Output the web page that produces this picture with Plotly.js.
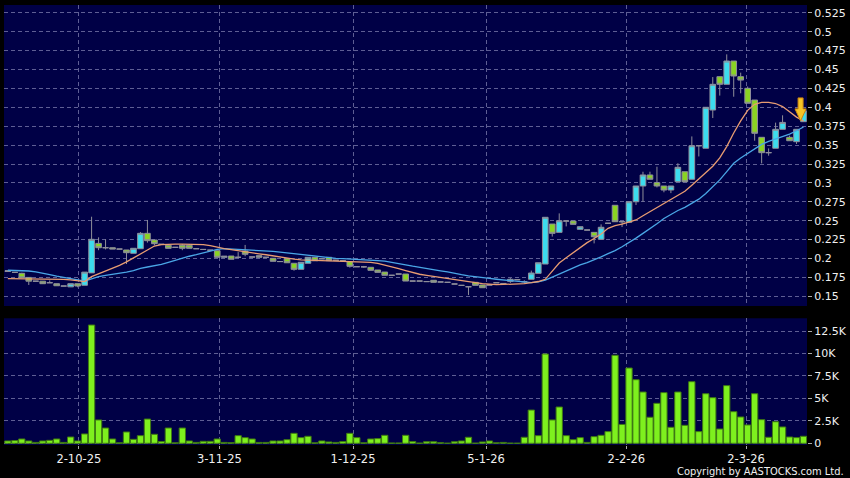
<!DOCTYPE html>
<html><head><meta charset="utf-8">
<script src="https://cdn.plot.ly/plotly-3.0.1.min.js"></script>
<style>html,body{margin:0;padding:0;background:#000;}#chart{width:850px;height:478px;}</style>
</head><body><div id="chart"></div>
<script>
const openP = [0.1828,0.1817,0.1804,0.1750,0.1700,0.1700,0.1680,0.1667,0.1636,0.1625,
0.1667,0.1646,0.1810,0.2200,0.2143,0.2143,0.2125,0.2113,0.2069,0.2130,
0.2333,0.2245,0.2188,0.2175,0.2148,0.2175,0.2175,0.2130,0.2120,0.2110,
0.2103,0.2016,0.2033,0.2016,0.2099,0.2020,0.2038,0.2016,0.2003,0.1960,
0.1997,0.1937,0.1857,0.1937,0.2016,0.1997,0.2016,0.1977,0.1970,0.1958,
0.1892,0.1890,0.1884,0.1848,0.1821,0.1778,0.1795,0.1795,0.1702,0.1702,
0.1695,0.1712,0.1690,0.1685,0.1663,0.1645,0.1627,0.1685,0.1650,0.1650,
0.1680,0.1670,0.1698,0.1720,0.1693,0.1725,0.1804,0.1927,0.2456,0.2346,
0.2496,0.2496,0.2386,0.2377,0.2346,0.2254,0.2466,0.2704,0.2487,0.2479,
0.2751,0.2959,0.3105,0.3003,0.2959,0.2906,0.3016,0.3148,0.3048,0.3492,
0.3458,0.3964,0.4405,0.4304,0.4612,0.4405,0.4251,0.4096,0.3603,0.3400,
0.3458,0.3709,0.3603,0.3545,0.3810];
const highP = [0.1840,0.1817,0.1812,0.1750,0.1700,0.1700,0.1710,0.1667,0.1636,0.1667,
0.1667,0.1820,0.2553,0.2280,0.2254,0.2143,0.2125,0.2113,0.2135,0.2350,
0.2510,0.2245,0.2188,0.2175,0.2148,0.2190,0.2190,0.2130,0.2120,0.2110,
0.2103,0.2030,0.2033,0.2085,0.2180,0.2020,0.2038,0.2016,0.2003,0.1960,
0.1997,0.1937,0.1950,0.2016,0.2016,0.1997,0.2016,0.1977,0.1970,0.1958,
0.1892,0.1902,0.1884,0.1848,0.1821,0.1778,0.1795,0.1795,0.1702,0.1702,
0.1695,0.1712,0.1690,0.1685,0.1663,0.1645,0.1627,0.1685,0.1650,0.1650,
0.1680,0.1670,0.1740,0.1720,0.1712,0.1840,0.1944,0.2545,0.2456,0.2597,
0.2505,0.2496,0.2421,0.2377,0.2346,0.2452,0.2466,0.2704,0.2487,0.2751,
0.2959,0.3148,0.3148,0.3214,0.2959,0.2959,0.3260,0.3148,0.3615,0.3492,
0.4000,0.4400,0.4405,0.4700,0.4612,0.4458,0.4275,0.4096,0.3603,0.3456,
0.3797,0.3894,0.3625,0.3709,0.3955];
const lowP = [0.1828,0.1817,0.1746,0.1650,0.1700,0.1667,0.1680,0.1640,0.1636,0.1625,
0.1620,0.1646,0.1810,0.2110,0.2120,0.2125,0.2125,0.1927,0.2069,0.2130,
0.2210,0.2175,0.2188,0.2135,0.2148,0.2110,0.2135,0.2130,0.2120,0.2110,
0.2016,0.2016,0.1990,0.2016,0.2030,0.2020,0.2016,0.2016,0.1963,0.1960,
0.1944,0.1839,0.1857,0.1937,0.1970,0.1997,0.1972,0.1977,0.1970,0.1880,
0.1892,0.1878,0.1844,0.1817,0.1778,0.1778,0.1795,0.1702,0.1702,0.1702,
0.1695,0.1685,0.1690,0.1685,0.1663,0.1645,0.1517,0.1645,0.1614,0.1650,
0.1680,0.1670,0.1678,0.1720,0.1675,0.1725,0.1804,0.1927,0.2290,0.2346,
0.2425,0.2452,0.2386,0.2377,0.2200,0.2254,0.2466,0.2487,0.2416,0.2479,
0.2707,0.2751,0.3048,0.2940,0.2876,0.2865,0.3016,0.3016,0.3048,0.3350,
0.3458,0.3858,0.4155,0.4304,0.4140,0.4185,0.4053,0.3558,0.3258,0.3360,
0.3458,0.3709,0.3558,0.3515,0.3810];
const closeP = [0.1838,0.1817,0.1746,0.1700,0.1700,0.1667,0.1680,0.1640,0.1636,0.1667,
0.1636,0.1820,0.2254,0.2143,0.2143,0.2125,0.2125,0.2077,0.2135,0.2333,
0.2236,0.2196,0.2188,0.2135,0.2148,0.2135,0.2135,0.2130,0.2120,0.2110,
0.2016,0.2030,0.1990,0.2016,0.2056,0.2020,0.2016,0.2016,0.1963,0.1960,
0.1944,0.1857,0.1950,0.2016,0.1970,0.1997,0.1972,0.1977,0.1970,0.1897,
0.1892,0.1890,0.1844,0.1817,0.1778,0.1778,0.1795,0.1702,0.1702,0.1702,
0.1695,0.1685,0.1690,0.1685,0.1663,0.1645,0.1627,0.1645,0.1614,0.1650,
0.1680,0.1670,0.1725,0.1720,0.1693,0.1808,0.1944,0.2545,0.2333,0.2500,
0.2496,0.2452,0.2421,0.2377,0.2288,0.2413,0.2466,0.2487,0.2487,0.2751,
0.2959,0.3105,0.3048,0.2959,0.2906,0.2959,0.3206,0.3016,0.3492,0.3492,
0.4000,0.4304,0.4304,0.4612,0.4414,0.4360,0.4053,0.3656,0.3400,0.3400,
0.3709,0.3800,0.3558,0.3709,0.3955];
const volumeK = [0.26,0.30,0.48,0.26,0.10,0.26,0.33,0.48,0.10,0.70,
0.26,1.04,13.17,2.60,1.70,0.48,0.05,1.26,0.44,0.85,
2.70,1.00,0.20,1.70,0.05,1.70,0.26,0.10,0.22,0.22,
0.48,0.10,0.07,0.85,0.63,0.48,0.10,0.10,0.26,0.26,
0.40,1.11,0.63,0.78,0.05,0.26,0.15,0.10,0.20,1.11,
0.63,0.05,0.48,0.52,0.89,0.03,0.03,0.89,0.20,0.02,
0.18,0.18,0.07,0.01,0.18,0.26,0.67,0.02,0.15,0.26,
0.05,0.10,0.02,0.01,0.67,3.70,0.85,9.94,2.60,4.04,
0.85,0.40,0.63,0.10,0.74,0.89,1.30,9.80,2.10,8.38,
7.08,5.71,2.90,4.45,5.64,1.78,5.71,2.00,6.86,1.30,
5.52,5.08,1.59,6.42,3.52,2.93,2.04,5.52,2.63,0.67,
2.40,1.82,0.70,0.63,0.78];
const maShort = [0.1733,0.1733,0.1733,0.1732,0.1731,0.1730,0.1729,0.1727,0.1724,0.1718,
0.1708,0.1695,0.1760,0.1795,0.1835,0.1870,0.1910,0.1955,0.2010,0.2065,
0.2115,0.2165,0.2185,0.2190,0.2190,0.2190,0.2190,0.2188,0.2185,0.2170,
0.2148,0.2132,0.2118,0.2102,0.2090,0.2076,0.2062,0.2050,0.2034,0.2018,
0.2005,0.1993,0.1982,0.1978,0.1975,0.1971,0.1969,0.1967,0.1965,0.1961,
0.1958,0.1955,0.1949,0.1935,0.1914,0.1890,0.1866,0.1840,0.1812,0.1792,
0.1777,0.1762,0.1748,0.1736,0.1723,0.1710,0.1696,0.1681,0.1667,0.1657,
0.1655,0.1657,0.1660,0.1662,0.1667,0.1680,0.1696,0.1725,0.1840,0.1940,
0.2010,0.2080,0.2145,0.2210,0.2265,0.2325,0.2400,0.2435,0.2455,0.2480,
0.2510,0.2565,0.2620,0.2665,0.2720,0.2775,0.2830,0.2890,0.2970,0.3050,
0.3130,0.3220,0.3330,0.3480,0.3660,0.3820,0.3960,0.4040,0.4065,0.4065,
0.4050,0.4010,0.3940,0.3870,0.3820];
const maLong = [0.1845,0.1843,0.1840,0.1835,0.1822,0.1808,0.1788,0.1768,0.1750,0.1732,
0.1714,0.1702,0.1730,0.1760,0.1778,0.1790,0.1802,0.1820,0.1840,0.1870,
0.1888,0.1905,0.1922,0.1950,0.1978,0.2002,0.2030,0.2050,0.2072,0.2097,
0.2122,0.2130,0.2126,0.2122,0.2118,0.2113,0.2109,0.2102,0.2094,0.2085,
0.2075,0.2063,0.2048,0.2036,0.2026,0.2017,0.2009,0.2003,0.1998,0.1995,
0.1992,0.1986,0.1980,0.1973,0.1965,0.1951,0.1935,0.1916,0.1898,0.1881,
0.1868,0.1850,0.1838,0.1823,0.1802,0.1786,0.1771,0.1757,0.1746,0.1736,
0.1726,0.1716,0.1708,0.1702,0.1692,0.1682,0.1690,0.1714,0.1754,0.1796,
0.1836,0.1880,0.1915,0.1945,0.1980,0.2022,0.2065,0.2105,0.2156,0.2210,
0.2270,0.2333,0.2392,0.2460,0.2530,0.2588,0.2635,0.2676,0.2728,0.2785,
0.2860,0.2950,0.3040,0.3150,0.3260,0.3330,0.3390,0.3450,0.3510,0.3550,
0.3580,0.3615,0.3645,0.3690,0.3740];
const xTickLabels = ['2-10-25','3-11-25','1-12-25','5-1-26','2-2-26','2-3-26'];
const xTickPos = [10.17, 30.3, 49.46, 68.52, 88.62, 105.77];
const priceTicks = [0.15,0.175,0.2,0.225,0.25,0.275,0.3,0.325,0.35,0.375,0.4,0.425,0.45,0.475,0.5,0.525];
const priceTickText = ['0.15','0.175','0.2','0.225','0.25','0.275','0.3','0.325','0.35','0.375','0.4','0.425','0.45','0.475','0.5','0.525'];
const volTicks = [0,2.5,5,7.5,10,12.5];
const volTickText = ['0','2.5K','5K','7.5K','10K','12.5K'];

const idx = openP.map((_, i) => i);
const gridC = 'rgba(125,125,175,0.75)';
const GD = '4px,3px';

const traces = [
  {type:'candlestick', x:idx, open:openP, high:highP, low:lowP, close:closeP,
   xaxis:'x', yaxis:'y', whiskerwidth:0, hoverinfo:'skip',
   increasing:{fillcolor:'#3cdcee', line:{color:'#8e8e9a', width:1}},
   decreasing:{fillcolor:'#8ad422', line:{color:'#8e8e9a', width:1}}},
  {type:'scatter', mode:'lines', x:idx, y:maLong, xaxis:'x', yaxis:'y',
   line:{color:'#4aa6e6', width:1.3}, hoverinfo:'skip'},
  {type:'scatter', mode:'lines', x:idx, y:maShort, xaxis:'x', yaxis:'y',
   line:{color:'#e89c72', width:1.3}, hoverinfo:'skip'},
  {type:'bar', x:idx, y:volumeK, xaxis:'x', yaxis:'y2', width:0.9,
   marker:{color:'#7ef01e', line:{color:'#3f7a12', width:1}}, hoverinfo:'skip'}
];

const nL = idx.length - 1;
const ax = idx[nL] - 0.42, tip = maShort[nL];
const hw = 0.8, sw = 0.36, hh = 0.0159, th = 0.0304;
const arrowPath = `M ${ax-sw} ${tip+th} L ${ax+sw} ${tip+th} L ${ax+sw} ${tip+hh} L ${ax+hw} ${tip+hh} L ${ax} ${tip} L ${ax-hw} ${tip+hh} L ${ax-sw} ${tip+hh} Z`;

const layout = {
  width:850, height:478,
  paper_bgcolor:'#000000', plot_bgcolor:'#000046',
  margin:{l:4, r:43, t:5, b:33},
  showlegend:false, hovermode:false,
  boxgap:0.1, boxgroupgap:0.1,
  font:{family:'DejaVu Sans, sans-serif', size:11, color:'#f0f0f0'},
  xaxis:{range:[-0.55,114.5], tickvals:xTickPos, ticktext:xTickLabels, anchor:'y2',
    showgrid:true, gridcolor:gridC, griddash:GD, gridwidth:1, zeroline:false, showline:false,
    ticks:'outside', ticklen:3, tickcolor:'#aaaaaa', tickfont:{size:11.5, color:'#f0f0f0'},
    rangeslider:{visible:false}, fixedrange:true},
  yaxis:{domain:[0.3159,1], range:[0.1372,0.5353], side:'right', tickvals:priceTicks, ticktext:priceTickText,
    showgrid:true, gridcolor:gridC, griddash:GD, gridwidth:1, zeroline:false, showline:false,
    ticks:'outside', ticklen:4, tickcolor:'#aaaaaa', tickfont:{size:11, color:'#f0f0f0'}, fixedrange:true},
  yaxis2:{domain:[0,0.288], range:[-0.19,13.92], side:'right', tickvals:volTicks, ticktext:volTickText,
    showgrid:true, gridcolor:gridC, griddash:GD, gridwidth:1, zeroline:false, showline:false,
    ticks:'outside', ticklen:4, tickcolor:'#aaaaaa', tickfont:{size:11, color:'#f0f0f0'}, fixedrange:true},
  shapes:[
    {type:'path', xref:'x', yref:'y', path:arrowPath, fillcolor:'#f6c426', line:{color:'#cc8410', width:1}, layer:'above'}
  ],
  annotations:[
    {text:'Copyright by AASTOCKS.com Ltd.', xref:'paper', yref:'paper', x:1.048, y:-0.0607,
     xanchor:'right', yanchor:'middle', showarrow:false,
     font:{family:'DejaVu Sans Condensed, DejaVu Sans, sans-serif', size:11, color:'#f0f0f0'}}
  ]
};

Plotly.newPlot('chart', traces, layout, {displayModeBar:false, staticPlot:true});
</script>
</body></html>
